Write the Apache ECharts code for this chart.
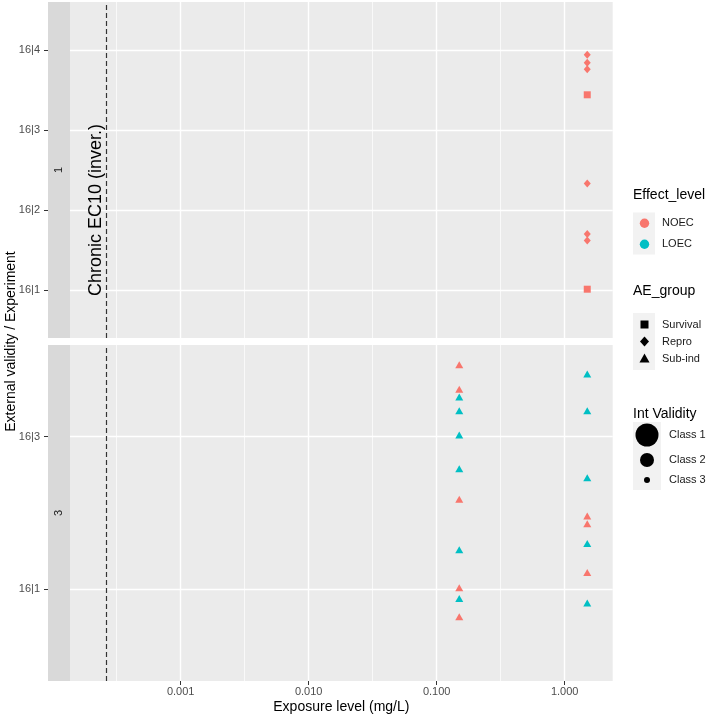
<!DOCTYPE html>
<html><head><meta charset="utf-8">
<script src="https://cdn.jsdelivr.net/npm/echarts@6/dist/echarts.min.js"></script>
<style>html,body{margin:0;padding:0;background:#fff}#c{width:709px;height:718px}</style>
</head><body><div id="c"></div>
<script>
// ---------- data ----------
const topCategories = ['16|1', '16|2', '16|3', '16|4'];
const bottomCategories = ['16|1', '16|3'];
const panelLabels = ['1', '3'];
const xTicks = [0.001, 0.01, 0.1, 1];
const xMinorLines = [0.000316, 0.00316, 0.0316, 0.316];
const chronicEC10 = 0.000264;
const xMin = 0.0001365, xMax = 2.371;
// [exposure (mg/L), experiment, vertical jitter]
const topNOECRepro = [[1.5,'16|4',-0.06],[1.5,'16|4',-0.16],[1.5,'16|4',-0.24],[1.5,'16|2',0.33],[1.5,'16|2',-0.30],[1.5,'16|2',-0.38]];
const topNOECSurvival = [[1.5,'16|3',0.44],[1.5,'16|1',0.01]];
const bottomNOECSubind = [[0.15,'16|3',0.47],[0.15,'16|3',0.31],[0.15,'16|3',-0.41],[0.15,'16|1',0.01],[0.15,'16|1',-0.18],[1.5,'16|1',0.48],[1.5,'16|1',0.43],[1.5,'16|1',0.11]];
const bottomLOECSubind = [[0.15,'16|3',0.26],[0.15,'16|3',0.17],[0.15,'16|3',0.01],[0.15,'16|3',-0.21],[0.15,'16|1',0.26],[0.15,'16|1',-0.06],[1.5,'16|3',0.41],[1.5,'16|3',0.17],[1.5,'16|3',-0.27],[1.5,'16|1',0.30],[1.5,'16|1',-0.09]];
const effectLevels = ['NOEC', 'LOEC'];
const aeGroups = ['Survival', 'Repro', 'Sub-ind'];
const validityClasses = ['Class 1', 'Class 2', 'Class 3'];

// ---------- styles ----------
const FONT = '"Liberation Sans", Arial, sans-serif';
const RED = '#F8766D', TEAL = '#00BFC4';
const PANEL_BG = '#EBEBEB', STRIP_BG = '#D9D9D9';

function toPts(arr, cats) {
  return arr.map(d => [d[0], cats.indexOf(d[1]) + 1 + d[2]]);
}

const GRID_LEFT = 70, GRID_W = 542.7, GRID_H = 336;
const gridTops = [2, 345];

function xAxisCfg(gi, show) {
  return {
    type: 'log', logBase: 10, gridIndex: gi, min: xMin, max: xMax,
    axisLine: { show: false },
    axisTick: { show: show, length: 4, customValues: xTicks, lineStyle: { color: '#333', width: 1 } },
    axisLabel: { show: show, customValues: xTicks, formatter: v => Number(v).toFixed(3), color: '#4D4D4D', fontSize: 11, margin: 5, fontFamily: FONT },
    splitLine: { show: true, lineStyle: { color: '#fff', width: 1.4 } },
    name: show ? 'Exposure level (mg/L)' : '', nameLocation: 'middle', nameGap: 19,
    nameTextStyle: { color: '#000', fontSize: 14, fontFamily: FONT }
  };
}
function yAxisCfg(gi, cats) {
  const vals = cats.map((c, i) => i + 1);
  return {
    type: 'value', gridIndex: gi, min: 0.4, max: cats.length + 0.6, offset: 22,
    axisLine: { show: false },
    axisTick: { show: true, length: 4, customValues: vals, lineStyle: { color: '#333', width: 1 } },
    axisLabel: { customValues: vals, formatter: v => cats[Math.round(v) - 1], color: '#4D4D4D', fontSize: 11, margin: 8, fontFamily: FONT },
    splitLine: { show: true, lineStyle: { color: '#fff', width: 1.4 } }
  };
}
const refMarkLine = {
  silent: true, symbol: ['none', 'none'], animation: false, precision: 10,
  label: { show: false },
  emphasis: { disabled: true },
  data: xMinorLines.map(v => ({ xAxis: v, lineStyle: { color: '#fff', width: 0.7, type: 'solid' } }))
    .concat([{ xAxis: chronicEC10, lineStyle: { color: '#333', width: 1.2, type: [5, 3] } }])
};
function pointSeries(name, gi, data, symbol, size, color, withLines) {
  const s = {
    type: 'scatter', name: name, xAxisIndex: gi, yAxisIndex: gi, data: data, z: 5,
    symbol: symbol, symbolSize: size, itemStyle: { color: color, opacity: 1 }, animation: false
  };
  if (withLines) s.markLine = refMarkLine;
  return s;
}

// ---------- graphic (strips, titles, legend) ----------
const graphics = [];
gridTops.forEach((t, i) => {
  graphics.push({ type: 'rect', shape: { x: 48, y: t, width: 22, height: GRID_H }, style: { fill: STRIP_BG }, silent: true });
  graphics.push({ type: 'text', x: 59, y: t + GRID_H / 2, rotation: Math.PI / 2,
    style: { text: panelLabels[i], fill: '#1A1A1A', font: '11px ' + FONT, textAlign: 'center', textVerticalAlign: 'middle' } });
});
graphics.push({ type: 'text', x: 11, y: 341.5, rotation: Math.PI / 2,
  style: { text: 'External validity / Experiment', fill: '#000', font: '14px ' + FONT, textAlign: 'center', textVerticalAlign: 'middle' } });

function legendTitle(text, y) {
  graphics.push({ type: 'text', x: 633, y: y, style: { text: text, fill: '#000', font: '14px ' + FONT, textAlign: 'left', textVerticalAlign: 'middle' } });
}
function legendLabel(text, x, y) {
  graphics.push({ type: 'text', x: x, y: y, style: { text: text, fill: '#1A1A1A', font: '11px ' + FONT, textAlign: 'left', textVerticalAlign: 'middle' } });
}
// Effect_level
legendTitle('Effect_level', 195);
graphics.push({ type: 'rect', shape: { x: 633, y: 212.5, width: 22, height: 42 }, style: { fill: '#F2F2F2' } });
[RED, TEAL].forEach((c, i) => {
  graphics.push({ type: 'circle', shape: { cx: 644.5, cy: 223.3 + 21 * i, r: 4.7 }, style: { fill: c } });
  legendLabel(effectLevels[i], 662, 223.3 + 21 * i);
});
// AE_group
legendTitle('AE_group', 291);
graphics.push({ type: 'rect', shape: { x: 633, y: 313, width: 22, height: 57 }, style: { fill: '#F2F2F2' } });
const aeY = [324.5, 341.5, 359];
graphics.push({ type: 'rect', shape: { x: 640.5, y: aeY[0] - 4, width: 8, height: 8 }, style: { fill: '#000' } });
graphics.push({ type: 'polygon', shape: { points: [[644.5, aeY[1] - 5], [649, aeY[1]], [644.5, aeY[1] + 5], [640, aeY[1]]] }, style: { fill: '#000' } });
graphics.push({ type: 'polygon', shape: { points: [[644.5, aeY[2] - 5.5], [649.5, aeY[2] + 3.5], [639.5, aeY[2] + 3.5]] }, style: { fill: '#000' } });
aeGroups.forEach((g, i) => legendLabel(g, 662, aeY[i]));
// Int Validity
legendTitle('Int Validity', 414);
graphics.push({ type: 'rect', shape: { x: 633, y: 422, width: 28, height: 68 }, style: { fill: '#F2F2F2' } });
const ivY = [435, 460, 480], ivR = [11.5, 7, 3];
ivY.forEach((y, i) => {
  graphics.push({ type: 'circle', shape: { cx: 647, cy: y, r: ivR[i] }, style: { fill: '#000' } });
  legendLabel(validityClasses[i], 669, y);
});

const option = {
  animation: false,
  backgroundColor: '#fff',
  textStyle: { fontFamily: FONT },
  grid: gridTops.map(t => ({ left: GRID_LEFT, top: t, width: GRID_W, height: GRID_H, show: true, backgroundColor: PANEL_BG, borderWidth: 0, containLabel: false })),
  xAxis: [xAxisCfg(0, false), xAxisCfg(1, true)],
  yAxis: [yAxisCfg(0, topCategories), yAxisCfg(1, bottomCategories)],
  graphic: graphics,
  series: [
    pointSeries('NOEC', 0, toPts(topNOECRepro, topCategories), 'diamond', [7, 8], RED, true),
    pointSeries('NOEC', 0, toPts(topNOECSurvival, topCategories), 'rect', 7, RED, false),
    pointSeries('NOEC', 1, toPts(bottomNOECSubind, bottomCategories), 'triangle', [8, 7], RED, true),
    pointSeries('LOEC', 1, toPts(bottomLOECSubind, bottomCategories), 'triangle', [8, 7], TEAL, false),
    {
      type: 'scatter', xAxisIndex: 0, yAxisIndex: 0, silent: true, z: 4, symbolSize: 0,
      itemStyle: { opacity: 1 },
      data: [[chronicEC10, 2]],
      label: { show: true, formatter: 'Chronic EC10 (inver.)', rotate: 90, position: 'inside', offset: [0, -11],
        color: '#000', opacity: 1, fontSize: 18, fontFamily: FONT, textBorderWidth: 0, textShadowBlur: 0 }
    }
  ]
};
const chart = echarts.init(document.getElementById('c'), null, { renderer: 'canvas' });
chart.setOption(option);
</script></body></html>
